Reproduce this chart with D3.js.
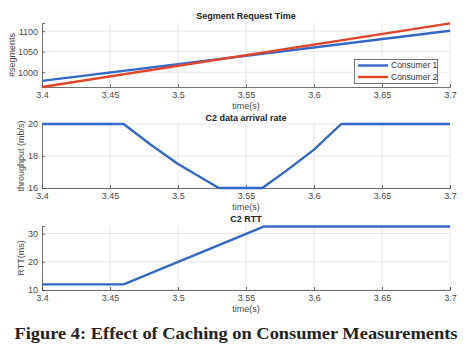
<!DOCTYPE html>
<html><head><meta charset="utf-8">
<script src="https://cdn.jsdelivr.net/npm/d3@7"></script>
<style>body{margin:0;background:#fff}svg{display:block}</style>
</head><body>
<script>
// ---- data ----
const xTicks = [3.4, 3.45, 3.5, 3.55, 3.6, 3.65, 3.7];
const xTickLabels = ["3.4","3.45","3.5","3.55","3.6","3.65","3.7"];
const segTime = [3.4, 3.7];
const consumer1 = [979, 1101];
const consumer2 = [964, 1119];
const segYTicks = [1000, 1050, 1100];
const rateTime = [3.4, 3.46, 3.48, 3.5, 3.53, 3.562, 3.58, 3.6, 3.62, 3.7];
const rateValues = [20, 20, 18.7, 17.5, 16, 16, 17.1, 18.4, 20, 20];
const rateYTicks = [16, 18, 20];
const rttTime = [3.4, 3.46, 3.563, 3.7];
const rttValues = [12, 12, 32.5, 32.5];
const rttYTicks = [10, 20, 30];
const seriesNames = ["Consumer 1", "Consumer 2"];
const colors = ["#3468c6", "#e3452c"];

const W = 475, H = 357;
const svg = d3.select("body").append("svg").attr("width", W).attr("height", H);
const x = d3.scaleLinear().domain([3.4, 3.7]).range([42, 450]);
const font = "Liberation Sans, Arial, sans-serif";

function panel(opt) {
  const y = d3.scaleLinear().domain(opt.domain).range([opt.bottom, opt.top]);
  const g = svg.append("g");
  g.selectAll(".vg").data(xTicks.slice(1)).enter().append("line")
    .attr("x1", d => x(d)).attr("x2", d => x(d))
    .attr("y1", opt.top).attr("y2", opt.bottom)
    .attr("stroke", "#e6e6e6").attr("stroke-width", 1);
  g.selectAll(".hg").data(opt.yTicks).enter().append("line")
    .attr("x1", x.range()[0]).attr("x2", x.range()[1])
    .attr("y1", d => y(d)).attr("y2", d => y(d))
    .attr("stroke", "#e6e6e6").attr("stroke-width", 1);
  const xa = g.append("g").attr("transform", `translate(0,${opt.bottom})`)
    .call(d3.axisBottom(x).tickValues(xTicks).tickFormat((d, i) => xTickLabels[i]).tickSize(-3).tickPadding(5));
  const ya = g.append("g").attr("transform", `translate(${x.range()[0]},0)`)
    .call(d3.axisLeft(y).tickValues(opt.yTicks).tickFormat(d3.format("d")).tickSize(-3).tickPadding(4));
  [xa, ya].forEach(a => {
    a.select(".domain").attr("stroke", "#4d4d4d").attr("stroke-width", 0.8);
    a.selectAll(".tick line").attr("stroke", "#4d4d4d").attr("stroke-width", 0.8);
    a.selectAll("text").attr("fill", "#4a4a4a").attr("font-size", 9).attr("font-family", font);
  });
  g.append("text").attr("x", 246).attr("y", opt.bottom + 22).attr("text-anchor", "middle")
    .attr("font-size", 9).attr("fill", "#4a4a4a").attr("font-family", font).text("time(s)");
  g.append("text").attr("transform", `translate(${opt.ylx},${(opt.top + opt.bottom) / 2}) rotate(-90)`)
    .attr("text-anchor", "middle").attr("dy", "0.35em")
    .attr("font-size", 9).attr("fill", "#4a4a4a").attr("font-family", font).text(opt.ylabel);
  g.append("text").attr("x", 246).attr("y", opt.titleY).attr("text-anchor", "middle").attr("dy", "0.35em")
    .attr("font-size", 9).attr("font-weight", "bold").attr("fill", "#222").attr("font-family", font).text(opt.title);
  const line = d3.line().x(d => x(d[0])).y(d => y(d[1]));
  opt.series.forEach(s => {
    g.append("path").datum(s.t.map((t, k) => [t, s.v[k]]))
      .attr("d", line).attr("fill", "none").attr("stroke", s.color)
      .attr("stroke-width", 2.4).attr("stroke-linejoin", "round");
  });
  return g;
}

panel({top: 23, bottom: 87, domain: [964, 1120], yTicks: segYTicks, ylabel: "#segments", ylx: 12,
  title: "Segment Request Time", titleY: 16,
  series: [{t: segTime, v: consumer1, color: colors[0]}, {t: segTime, v: consumer2, color: colors[1]}]});
panel({top: 124, bottom: 188, domain: [16, 20], yTicks: rateYTicks, ylabel: "throughput (mb/s)", ylx: 21,
  title: "C2 data arrival rate", titleY: 118,
  series: [{t: rateTime, v: rateValues, color: colors[0]}]});
panel({top: 226, bottom: 290, domain: [10, 32.7], yTicks: rttYTicks, ylabel: "RTT(ms)", ylx: 21,
  title: "C2 RTT", titleY: 219,
  series: [{t: rttTime, v: rttValues, color: colors[0]}]});

const lg = svg.append("g");
lg.append("rect").attr("x", 354.5).attr("y", 59.5).attr("width", 83).attr("height", 24)
  .attr("fill", "#fff").attr("stroke", "#555").attr("stroke-width", 0.8);
seriesNames.forEach((n, i) => {
  const yy = 65.5 + i * 11.5;
  lg.append("line").attr("x1", 358).attr("x2", 388).attr("y1", yy).attr("y2", yy)
    .attr("stroke", colors[i]).attr("stroke-width", 2.4);
  lg.append("text").attr("x", 391).attr("y", yy).attr("dy", "0.35em")
    .attr("font-size", 8.5).attr("fill", "#333").attr("font-family", font).text(n);
});

svg.append("text").attr("x", 236).attr("y", 339).attr("text-anchor", "middle")
  .attr("font-family", "Liberation Serif, DejaVu Serif, serif").attr("font-weight", "bold")
  .attr("font-size", 17).attr("fill", "#222").attr("textLength", 443).attr("lengthAdjust", "spacingAndGlyphs")
  .text("Figure 4: Effect of Caching on Consumer Measurements");
</script>
</body></html>
